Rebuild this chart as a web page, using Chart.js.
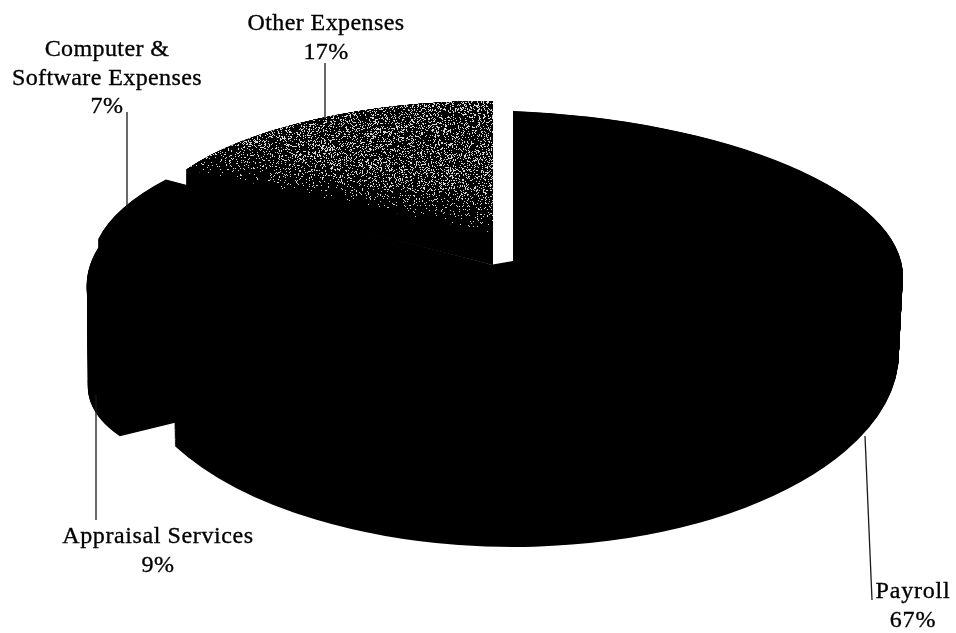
<!DOCTYPE html>
<html>
<head>
<meta charset="utf-8">
<style>
  html, body { margin: 0; padding: 0; background: #fff; }
  canvas { display: block; }
</style>
<script src="https://cdn.jsdelivr.net/npm/chart.js@4"></script>
</head>
<body>
<canvas id="pie" width="956" height="633"></canvas>
<script>
// Expense shares, clockwise from twelve o'clock.
const categories = ['Payroll', 'Appraisal Services', 'Computer & Software Expenses', 'Other Expenses'];
const shareValues = [67, 9, 7, 17];

// Caption lines for each slice; the percentage line is added from shareValues.
const captionLines = [['Payroll'], ['Appraisal Services'], ['Computer &', 'Software Expenses'], ['Other Expenses']];
const captionCentres = [[913, 592], [158, 537], [107, 50], [326, 24]];
const captionTracking = ['0.8px', '0.6px', '0.4px', '0.4px'];
const captionLeading = 28.6;
const leaders = [[[865, 436], [872, 600]], [[96, 395], [96, 520]], [[127, 112], [127, 208]], [[325, 63], [325, 118]]];

// Tilted-disc projection per slice: centre C and axes P, Q of the upper and lower rims.
const rims = [
  { top: { C: [513, 261], P: [390, 15], Q: [0, 150] },       bottom: { C: [513, 352], P: [386, 0], Q: [0, 195] } },
  { top: { C: [493, 265], P: [400, 7.8], Q: [-71, 156.6] },  bottom: { C: [493, 345], P: [403, -28], Q: [-41.6, 138.7] } },
  { top: { C: [493, 265], P: [398.5, 16.4], Q: [-45.8, 147.5] }, bottom: { C: [493, 325], P: [398.5, 16.4], Q: [-45.8, 147.5] } },
  { top: { C: [493, 233], P: [350, 0], Q: [0, 132] },        bottom: { C: [493, 265], P: [350, 0], Q: [0, 164] } }
];
const drawOrder = [3, 2, 1, 0];
const wallSteps = 140;
const inkColour = '#000000';
const speckledSlice = 3;

// Builds the halftone speckle used on the top face of the lightest slice.
function makeSpeckle(ctx) {
  const tile = document.createElement('canvas');
  tile.width = 956;
  tile.height = 633;
  const t = tile.getContext('2d');
  const img = t.createImageData(956, 633);
  for (let y = 0; y < 633; y++) {
    for (let x = 0; x < 956; x++) {
      const h = Math.sin(x * 12.9898 + y * 78.233) * 43758.5453;
      const noise = h - Math.floor(h);
      const above = (170 + (x - 186) * 0.205) - y;
      const density = 0.22 * Math.min(1, Math.max(0, above / 40));
      const i = (y * 956 + x) * 4;
      const v = noise < density + 0.01 ? 215 : 0;
      img.data[i] = img.data[i + 1] = img.data[i + 2] = v;
      img.data[i + 3] = 255;
    }
  }
  t.putImageData(img, 0, 0);
  return ctx.createPattern(tile, 'no-repeat');
}

function mix(a, b, f) {
  return [a[0] + (b[0] - a[0]) * f, a[1] + (b[1] - a[1]) * f];
}

// Draws one arc element through a rim projection blended by f (0 = upper rim, 1 = lower rim).
function drawProjected(ctx, arc, rim, f, fill) {
  const R = arc.outerRadius;
  const C = mix(rim.top.C, rim.bottom.C, f);
  const P = mix(rim.top.P, rim.bottom.P, f);
  const Q = mix(rim.top.Q, rim.bottom.Q, f);
  ctx.save();
  ctx.translate(C[0], C[1]);
  ctx.transform(P[0] / R, P[1] / R, Q[0] / R, Q[1] / R, 0, 0);
  ctx.translate(-arc.x, -arc.y);
  if (fill instanceof CanvasPattern) {
    // Keep the grain aligned to device pixels whatever the projection is.
    fill.setTransform(ctx.getTransform().inverse());
  }
  const saved = arc.options;
  arc.options = Object.create(saved, { backgroundColor: { value: fill } });
  arc.draw(ctx);
  arc.options = saved;
  ctx.restore();
}

const tiltedDisc = {
  id: 'tiltedDisc',
  beforeDatasetsDraw(chart) {
    const ctx = chart.ctx;
    const arcs = chart.getDatasetMeta(0).data;
    const speckle = makeSpeckle(ctx);
    drawOrder.forEach(idx => {
      const arc = arcs[idx];
      for (let s = wallSteps; s >= 0; s--) {
        drawProjected(ctx, arc, rims[idx], s / wallSteps, inkColour);
      }
      if (idx === speckledSlice) {
        drawProjected(ctx, arc, rims[idx], 0, speckle);
      }
    });
    return false;
  },
  afterDraw(chart) {
    const ctx = chart.ctx;
    ctx.save();
    ctx.strokeStyle = '#1a1a1a';
    ctx.lineWidth = 1.3;
    leaders.forEach(seg => {
      ctx.beginPath();
      ctx.moveTo(seg[0][0], seg[0][1]);
      ctx.lineTo(seg[1][0], seg[1][1]);
      ctx.stroke();
    });
    ctx.fillStyle = '#000';
    ctx.strokeStyle = '#000';
    ctx.lineWidth = 0.35;
    ctx.font = '24px "Liberation Serif"';
    ctx.textAlign = 'center';
    ctx.textBaseline = 'middle';
    categories.forEach((_, i) => {
      ctx.letterSpacing = captionTracking[i];
      const lines = captionLines[i].concat(shareValues[i] + '%');
      lines.forEach((line, n) => {
        const y = captionCentres[i][1] + n * captionLeading;
        ctx.fillText(line, captionCentres[i][0], y);
        ctx.strokeText(line, captionCentres[i][0], y);
      });
    });
    ctx.restore();
  }
};

new Chart(document.getElementById('pie'), {
  type: 'pie',
  data: {
    labels: categories,
    datasets: [{ data: shareValues, backgroundColor: inkColour, borderWidth: 0, clip: false }]
  },
  options: {
    responsive: false,
    animation: false,
    layout: { padding: 0 },
    plugins: { legend: { display: false }, tooltip: { enabled: false }, title: { display: false } }
  },
  plugins: [tiltedDisc]
});
</script>
</body>
</html>
